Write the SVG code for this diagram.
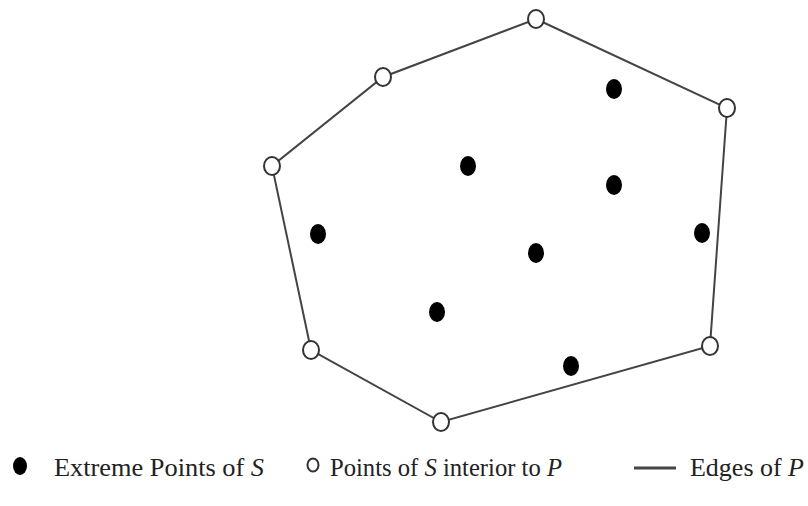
<svg xmlns="http://www.w3.org/2000/svg" width="808" height="506" viewBox="0 0 808 506">
<style>
.edge{fill:none;stroke:#444;stroke-width:2}
.hol{fill:#fff;stroke:#333;stroke-width:2}
.fil{fill:#000}
.lab{font-family:"Liberation Serif",serif;font-size:26px;fill:#222}
</style>
<rect width="808" height="506" fill="#fff"/>
<g id="connectors">
<polygon class="edge" points="536,19 727,108 710,346 441,422 311,350 272,166 383,77"/>
</g>
<g id="hull-points">
<ellipse id="h1" class="hol" cx="536" cy="19" rx="8" ry="9"/>
<ellipse id="h2" class="hol" cx="383" cy="77" rx="8" ry="9"/>
<ellipse id="h3" class="hol" cx="272" cy="166" rx="8" ry="9"/>
<ellipse id="h4" class="hol" cx="311" cy="350" rx="8" ry="9"/>
<ellipse id="h5" class="hol" cx="441" cy="422" rx="8" ry="9"/>
<ellipse id="h6" class="hol" cx="710" cy="346" rx="8" ry="9"/>
<ellipse id="h7" class="hol" cx="727" cy="108" rx="8" ry="9"/>
</g>
<g id="inner-points">
<ellipse id="p1" class="fil" cx="614" cy="89" rx="8" ry="10"/>
<ellipse id="p2" class="fil" cx="468" cy="166" rx="8" ry="10"/>
<ellipse id="p3" class="fil" cx="614" cy="185" rx="8" ry="10"/>
<ellipse id="p4" class="fil" cx="318" cy="234" rx="8" ry="10"/>
<ellipse id="p5" class="fil" cx="702" cy="233" rx="8" ry="10"/>
<ellipse id="p6" class="fil" cx="536" cy="253" rx="8" ry="10"/>
<ellipse id="p7" class="fil" cx="437" cy="312" rx="8" ry="10"/>
<ellipse id="p8" class="fil" cx="571" cy="366" rx="8" ry="10"/>
</g>
<g id="legend">
<ellipse class="fil" cx="20" cy="466" rx="7" ry="9"/>
<text class="lab" x="54" y="476" textLength="210" lengthAdjust="spacingAndGlyphs">Extreme Points of <tspan font-style="italic">S</tspan></text>
<ellipse class="hol" cx="313" cy="465" rx="5.5" ry="6.5" stroke-width="1.5"/>
<text class="lab" x="330" y="476" textLength="232" lengthAdjust="spacingAndGlyphs">Points of <tspan font-style="italic">S</tspan> interior to <tspan font-style="italic">P</tspan></text>
<line x1="634" y1="468" x2="676" y2="468" stroke="#444" stroke-width="3"/>
<text class="lab" x="690" y="476" textLength="114" lengthAdjust="spacingAndGlyphs">Edges of <tspan font-style="italic">P</tspan></text>
</g>
</svg>
